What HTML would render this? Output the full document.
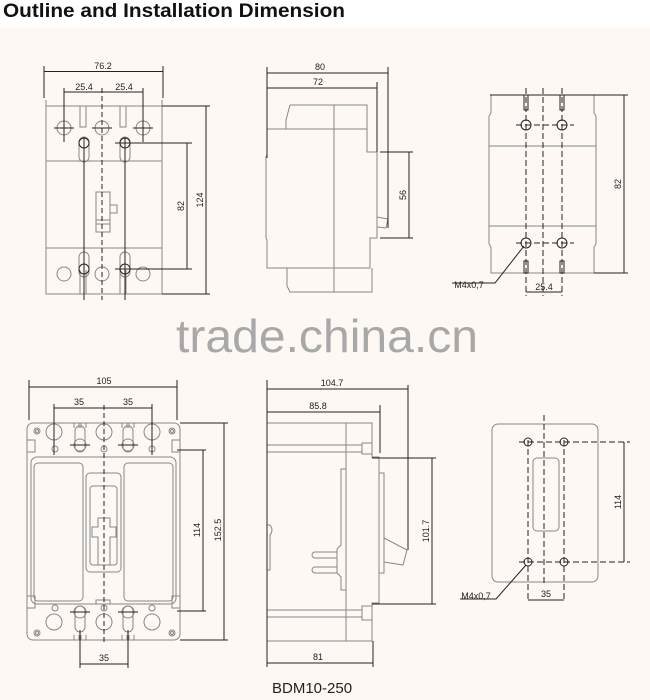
<!DOCTYPE html>
<html><head><meta charset="utf-8"><style>
html,body{margin:0;padding:0;background:#fff}
svg{display:block}
text{font-family:"Liberation Sans",Arial,sans-serif}
</style></head><body>
<svg width="650" height="700" viewBox="0 0 650 700" xmlns="http://www.w3.org/2000/svg">
<rect x="0" y="0" width="650" height="700" fill="#fff"/>
<rect x="0" y="28" width="650" height="672" fill="#fdf8f3"/>
<text x="3" y="17" font-size="19" font-weight="bold" fill="#111" textLength="342" lengthAdjust="spacingAndGlyphs">Outline and Installation Dimension</text>
<text x="176" y="352" font-size="46" fill="#a8a8a8" textLength="302" lengthAdjust="spacingAndGlyphs">trade.china.cn</text>

<g fill="none" stroke="#888" stroke-width="1">
<!-- Drawing 1 -->
<path d="M46 100 V106 H80 V127 H86 V106 H120 V127 H126 V106 H162 V100"/>
<rect x="46" y="106" width="116" height="188"/>
<line x1="46" y1="161" x2="162" y2="161"/><line x1="46" y1="248" x2="162" y2="248"/>
<path d="M80 294 V270 M86 294 V270 M120 294 V270 M126 294 V270"/>
<circle cx="64" cy="128" r="7"/><circle cx="102" cy="128" r="7"/><circle cx="143" cy="128" r="7"/>
<circle cx="64" cy="274" r="7"/><circle cx="102" cy="274" r="7"/><circle cx="143" cy="274" r="7"/>
<rect x="79" y="137" width="10" height="25" rx="5"/><rect x="120" y="137" width="10" height="25" rx="5"/>
<rect x="79" y="252" width="10" height="25" rx="5"/><rect x="120" y="252" width="10" height="25" rx="5"/>
<rect x="96" y="192" width="14" height="40"/><rect x="110" y="205" width="7" height="8"/>
<line x1="96" y1="220" x2="110" y2="220"/><line x1="96" y1="224" x2="110" y2="224"/>
</g>
<g fill="none" stroke="#222" stroke-width="1">
<circle cx="84" cy="143" r="5"/><circle cx="125" cy="143" r="5"/><circle cx="84" cy="269" r="5"/><circle cx="125" cy="269" r="5"/>
<path d="M84 137 V300 M125 137 V300"/>
<path d="M54 128 H74 M64 120 V138 M92 128 H112 M133 128 H153 M143 120 V138"/>
<line x1="102" y1="88" x2="102" y2="300" stroke-dasharray="5,3"/>
<path d="M44 66 V98 M163 66 V98 M44 71.5 H163 M64 88 V142 M143 88 V142 M64 92 H143"/>
<path d="M115 143 H192 M115 269 H192 M187 143 V269 M162 106 H210 M162 294 H210 M206 106 V294"/>
</g>
<g font-size="9" fill="#222" text-anchor="middle">
<text x="103" y="69">76.2</text><text x="84" y="90">25.4</text><text x="124" y="90">25.4</text>
<text transform="translate(184,206) rotate(-90)">82</text>
<text transform="translate(203,200) rotate(-90)">124</text>
</g>

<!-- Drawing 2 -->
<g fill="none" stroke="#888">
<path d="M290 105 H367 V129 M290 105 L286 120 V129"/>
<path d="M267 129 H367 V152 H377 V238 H370 V268 H267 V240 L266 238 V157 L267 155 Z"/>
<path d="M287 268 V286 L290 292 H372 V268"/>
<line x1="334" y1="105" x2="334" y2="292"/>
<path d="M377 217 L388 219 L386 228 L377 227"/>
</g>
<g fill="none" stroke="#222">
<path d="M267 67 V158 M267 73 H388 M267 88 H377 M388 67 V228 M377 82 V152 M380 152 H413 M380 238 H413 M409 152 V238"/>
</g>
<g font-size="9" fill="#222" text-anchor="middle">
<text x="320" y="70">80</text><text x="318" y="85">72</text>
<text transform="translate(406,195) rotate(-90)">56</text>
</g>

<!-- Drawing 3 -->
<g fill="none" stroke="#888">
<path d="M491 95 V113 L489 116 V244 L491 247 V273 H594 V247 L596 244 V116 L594 113 V95"/>
<line x1="489" y1="146" x2="596" y2="146"/><line x1="489" y1="226" x2="596" y2="226"/>
</g>
<g fill="none" stroke="#222">
<path d="M490 95 H628 M594 273 H628 M624 95 V273"/>
<path d="M526 88 V296 M543 88 V296 M562 88 V296" stroke-dasharray="6,3"/>
<path d="M516 125 H574 M516 243 H574" stroke-dasharray="6,3"/>
<rect x="524" y="95" width="4" height="15"/><rect x="560" y="95" width="4" height="15"/>
<rect x="524" y="261" width="4" height="12"/><rect x="560" y="261" width="4" height="12"/>
<circle cx="526" cy="125" r="5"/><circle cx="562" cy="125" r="5"/><circle cx="526" cy="243" r="5"/><circle cx="562" cy="243" r="5"/>
<path d="M526 292 H562 M524 246 L495 283 H452"/>
</g>
<g font-size="9" fill="#222" text-anchor="middle">
<text transform="translate(621,184) rotate(-90)">82</text>
<text x="544" y="290">25.4</text>
<text x="469" y="288">M4x0,7</text>
</g>

<!-- Drawing 4 -->
<g fill="none" stroke="#888">
<rect x="27" y="423" width="153" height="217" rx="6"/>
<rect x="31" y="457" width="145" height="147" rx="6"/>
<rect x="34" y="463" width="49" height="138" rx="4"/>
<rect x="124" y="463" width="49" height="138" rx="4"/>
<rect x="86" y="473" width="35" height="99" rx="4"/>
<rect x="90" y="486" width="27" height="79" rx="3"/>
<path d="M98 518 H110 V527 H116 V537 H110 V565 H98 V537 H92 V527 H98 Z"/>
<path d="M96 604 V600 H110 V604"/>
<circle cx="54" cy="432" r="8"/><circle cx="104" cy="432" r="8"/><circle cx="152" cy="432" r="8"/>
<circle cx="55" cy="449" r="3"/><circle cx="104" cy="449" r="3"/><circle cx="152" cy="449" r="3"/>
<circle cx="54" cy="622" r="8"/><circle cx="104" cy="622" r="8"/><circle cx="152" cy="622" r="8"/>
<circle cx="55" cy="608" r="3"/><circle cx="104" cy="608" r="3"/><circle cx="152" cy="608" r="3"/>
<rect x="75" y="426" width="10" height="26" rx="5"/><rect x="123" y="426" width="10" height="26" rx="5"/>
<rect x="75" y="606" width="10" height="26" rx="5"/><rect x="123" y="606" width="10" height="26" rx="5"/>
<circle cx="80" cy="445" r="6"/><circle cx="128" cy="445" r="6"/><circle cx="80" cy="612" r="6"/><circle cx="128" cy="612" r="6"/>
<path d="M74 423 V428 M79 423 V428 M81 423 V428 M86 423 V428 M122 423 V428 M127 423 V428 M129 423 V428 M134 423 V428"/>
<path d="M74 640 V635 M79 640 V635 M81 640 V635 M86 640 V635 M122 640 V635 M127 640 V635 M129 640 V635 M134 640 V635"/>
<circle cx="37" cy="431" r="3"/><circle cx="37" cy="431" r="1.5"/><circle cx="172" cy="431" r="3"/><circle cx="172" cy="431" r="1.5"/>
<circle cx="37" cy="633" r="3"/><circle cx="37" cy="633" r="1.5"/><circle cx="172" cy="633" r="3"/><circle cx="172" cy="633" r="1.5"/>
<path d="M27 440 H35 V452 H27 M180 440 H172 V452 H180 M27 596 H35 V608 H27 M180 596 H172 V608 H180"/>
</g>
<g fill="none" stroke="#222">
<line x1="104" y1="405" x2="104" y2="645" stroke-dasharray="5,3"/>
<path d="M29 380 V420 M177 380 V420 M29 387 H177 M54 404 V455 M152 404 V455 M54 408 H152"/>
<path d="M70 445 H90 M118 445 H138 M70 612 H90 M118 612 H138"/>
<path d="M80 630 V668 M128 630 V668 M80 664 H128"/>
<path d="M177 450 H206 M177 611 H206 M203 450 V611 M180 423 H228 M180 640 H228 M224 423 V640"/>
</g>
<g font-size="9" fill="#222" text-anchor="middle">
<text x="104" y="384">105</text><text x="79" y="405">35</text><text x="128" y="405">35</text>
<text x="104" y="661">35</text>
<text transform="translate(200,530) rotate(-90)">114</text>
<text transform="translate(221,530) rotate(-90)">152.5</text>
</g>

<!-- Drawing 5 -->
<g fill="none" stroke="#888">
<path d="M267 423 H372 V457 H379 V603 H372 V641 H267"/>
<path d="M267 445 H362 M267 452 H362 M362 443 H372 V454 H362 Z"/>
<path d="M267 610 H362 M267 617 H362 M362 606 H372 V620 H362 Z"/>
<line x1="346" y1="423" x2="346" y2="641"/>
<path d="M346 469 H341 V545 L337 549 V573 L341 577 V590 H346"/>
<path d="M337 552 H315 A3 3 0 0 0 315 558 H337 M337 567 H315 A3 3 0 0 0 315 573 H337"/>
<rect x="379" y="473" width="5" height="100"/>
<path d="M384 538 L407 550 L403 565 L384 562"/>
<path d="M267 525 H270 Q274 530 270 535 V570 H267"/>
</g>
<g fill="none" stroke="#222">
<path d="M267 380 V667 M267 389 H408 M267 412 H380 M408 385 V550 M380 405 V453"/>
<path d="M372 458 H436 M372 604 H436 M432 458 V604 M373 641 V667 M267 663 H373"/>
</g>
<g font-size="9" fill="#222" text-anchor="middle">
<text x="332" y="386">104.7</text><text x="318" y="409">85.8</text><text x="318" y="660">81</text>
<text transform="translate(429,531) rotate(-90)">101.7</text>
</g>
<text x="272" y="693" font-size="15" fill="#222">BDM10-250</text>

<!-- Drawing 6 -->
<rect x="492" y="424" width="106" height="158" rx="6" fill="none" stroke="#888"/>
<rect x="533" y="458" width="26" height="73" rx="4" fill="none" stroke="#888"/>
<g fill="none" stroke="#222">
<path d="M544 415 V583" stroke-dasharray="6,3"/>
<path d="M528 440 V600 M564 440 V600 M519 442 H630 M519 562 H630" stroke-dasharray="6,3"/>
<circle cx="528" cy="442" r="4"/><circle cx="564" cy="442" r="4"/><circle cx="528" cy="562" r="4"/><circle cx="564" cy="562" r="4"/>
<path d="M624 442 V562 M528 600 H564 M526 565 L496 599 H460"/>
</g>
<g font-size="9" fill="#222" text-anchor="middle">
<text transform="translate(621,502) rotate(-90)">114</text>
<text x="546" y="597">35</text>
<text x="476" y="599">M4x0,7</text>
</g>
</svg>
</body></html>
